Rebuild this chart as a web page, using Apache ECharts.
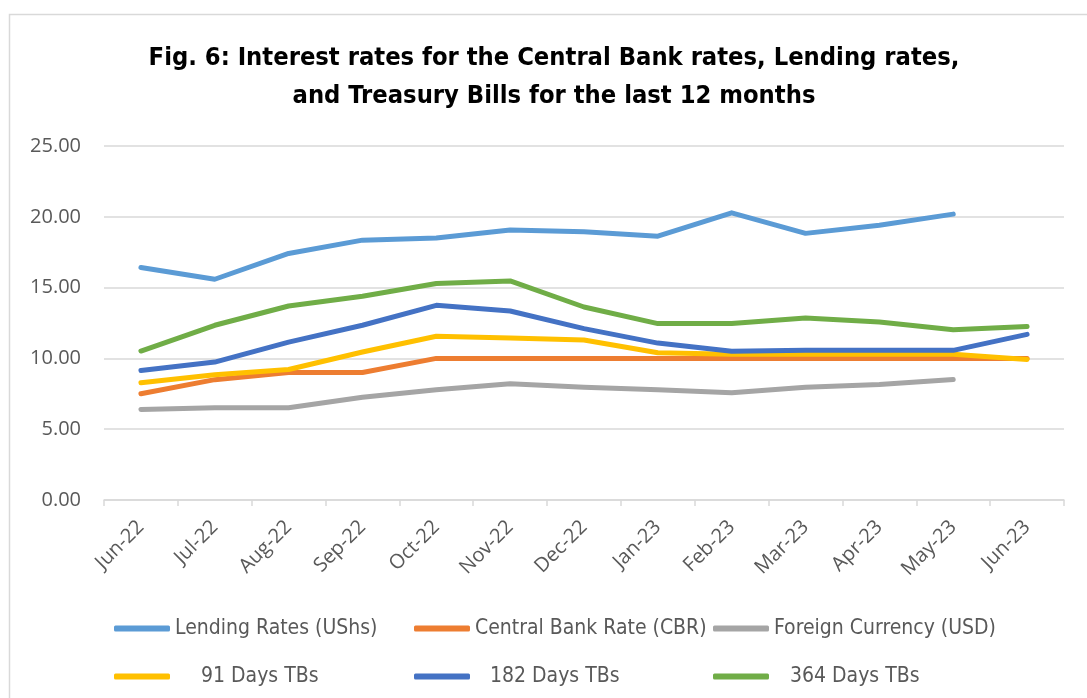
<!DOCTYPE html>
<html>
<head>
<meta charset="utf-8">
<script src="https://cdn.jsdelivr.net/npm/echarts@6/dist/echarts.min.js"></script>
<style>
html,body{margin:0;padding:0;background:#fff;}
#chart{width:1087px;height:698px;}
</style>
</head>
<body>
<div id="chart"></div>
<script>
const months = ['Jun-22','Jul-22','Aug-22','Sep-22','Oct-22','Nov-22','Dec-22','Jan-23','Feb-23','Mar-23','Apr-23','May-23','Jun-23'];
const lendingRates = [16.42, 15.59, 17.41, 18.35, 18.51, 19.06, 18.94, 18.63, 20.28, 18.83, 19.41, 20.19, null];
const centralBankRate = [7.5, 8.5, 9.0, 9.0, 10.0, 10.0, 10.0, 10.0, 10.0, 10.0, 10.0, 10.0, 10.0];
const foreignCurrency = [6.39, 6.51, 6.51, 7.26, 7.78, 8.21, 7.97, 7.78, 7.57, 7.97, 8.16, 8.51, null];
const tb91 = [8.28, 8.85, 9.22, 10.45, 11.56, 11.44, 11.3, 10.4, 10.3, 10.3, 10.3, 10.3, 9.93];
const tb182 = [9.15, 9.74, 11.15, 12.34, 13.75, 13.35, 12.1, 11.08, 10.5, 10.57, 10.57, 10.57, 11.7];
const tb364 = [10.52, 12.34, 13.70, 14.39, 15.29, 15.47, 13.63, 12.46, 12.46, 12.85, 12.57, 12.03, 12.26];
const seriesNames = ['Lending Rates (UShs)', 'Central Bank Rate (CBR)', 'Foreign Currency (USD)', '91 Days TBs', '182 Days TBs', '364 Days TBs'];
const titleLines = ['Fig. 6: Interest rates for the Central Bank rates, Lending rates,', 'and Treasury Bills for the last 12 months'];

const colors = ['#5B9BD5', '#ED7D31', '#A5A5A5', '#FFC000', '#4472C4', '#70AD47'];
const dataSets = [lendingRates, centralBankRate, foreignCurrency, tb91, tb182, tb364];
const narrowFont = "'DejaVu Sans Condensed', sans-serif";
const legendPos = [
  {left: 114, top: 618, pad: 0},
  {left: 414, top: 618, pad: 0},
  {left: 713, top: 618, pad: 0},
  {left: 114, top: 666, pad: 26},
  {left: 414, top: 666, pad: 15},
  {left: 713, top: 666, pad: 16}
];

const chart = echarts.init(document.getElementById('chart'), null, {renderer: 'canvas'});
const option = {
  backgroundColor: '#ffffff',
  animation: false,
  graphic: [{
    type: 'rect',
    shape: {x: 9.5, y: 14.5, width: 1200, height: 800},
    style: {fill: 'none', stroke: '#d9d9d9', lineWidth: 1.5},
    silent: true
  }],
  title: {
    text: titleLines.join('\n'),
    left: 549,
    top: 34,
    textAlign: 'center',
    textStyle: {
      fontFamily: narrowFont,
      fontWeight: 'bold',
      fontSize: 25.3,
      lineHeight: 38,
      color: '#000000'
    }
  },
  legend: seriesNames.map((n, i) => ({
    data: [n],
    left: legendPos[i].left,
    top: legendPos[i].top,
    padding: 0,
    icon: 'roundRect',
    itemWidth: 56,
    itemHeight: 6,
    textStyle: {fontFamily: narrowFont, fontSize: 21, color: '#595959', padding: [0, 0, 0, legendPos[i].pad]},
    selectedMode: false
  })),
  grid: {left: 104, right: 23, top: 146, bottom: 198, containLabel: false},
  xAxis: {
    type: 'category',
    data: months,
    boundaryGap: true,
    axisLine: {lineStyle: {color: '#d9d9d9', width: 1.5}},
    axisTick: {show: true, length: 6, lineStyle: {color: '#d9d9d9', width: 1.5}},
    axisLabel: {
      rotate: 45,
      margin: 24,
      fontFamily: "'Open Sans', sans-serif",
      fontSize: 20,
      color: '#595959',
      interval: 0
    }
  },
  yAxis: {
    type: 'value',
    min: 0,
    max: 25,
    interval: 5,
    axisLine: {show: false},
    axisTick: {show: false},
    splitLine: {lineStyle: {color: '#d9d9d9', width: 1.5}},
    axisLabel: {
      formatter: (v) => v.toFixed(2),
      margin: 23,
      fontFamily: "'Open Sans', sans-serif",
      fontSize: 20,
      color: '#595959'
    }
  },
  series: seriesNames.map((n, i) => ({
    name: n,
    type: 'line',
    data: dataSets[i],
    showSymbol: false,
    symbol: 'none',
    connectNulls: false,
    lineStyle: {color: colors[i], width: 5, cap: 'round', join: 'round'},
    itemStyle: {color: colors[i]},
    z: 2 + i
  }))
};
chart.setOption(option);
</script>
</body>
</html>
